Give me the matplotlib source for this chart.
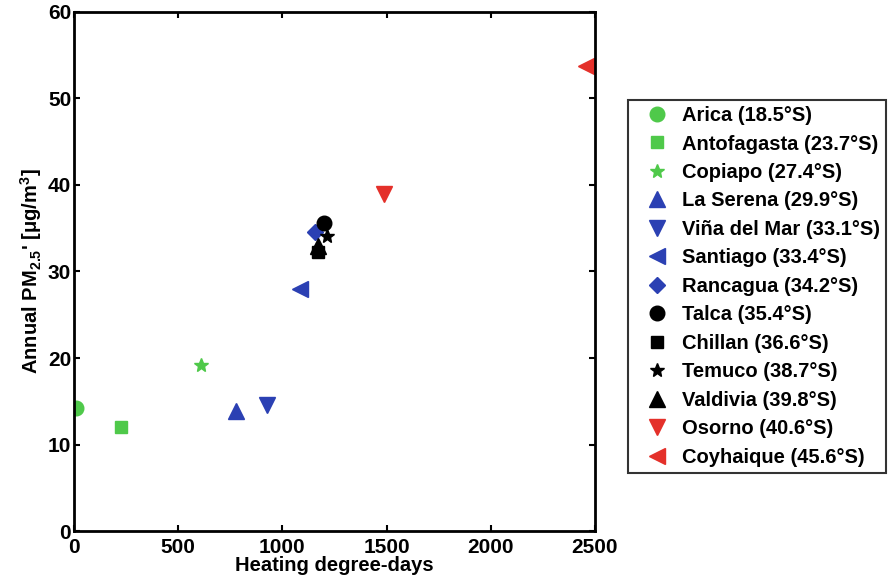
import matplotlib
matplotlib.use("Agg")
import matplotlib.pyplot as plt

plt.rcParams['font.family'] = ['Liberation Sans', 'DejaVu Sans']
plt.rcParams['font.weight'] = 'bold'
plt.rcParams['mathtext.fontset'] = 'custom'
plt.rcParams['mathtext.rm'] = 'Liberation Sans:bold'
plt.rcParams['mathtext.bf'] = 'Liberation Sans:bold'
plt.rcParams['mathtext.default'] = 'rm'

# データ
cities = ["Arica (18.5°S)", "Antofagasta (23.7°S)", "Copiapo (27.4°S)",
          "La Serena (29.9°S)", "Viña del Mar (33.1°S)", "Santiago (33.4°S)",
          "Rancagua (34.2°S)", "Talca (35.4°S)", "Chillan (36.6°S)",
          "Temuco (38.7°S)", "Valdivia (39.8°S)", "Osorno (40.6°S)",
          "Coyhaique (45.6°S)"]
hdd = [10, 225, 610, 779, 928, 1087, 1155, 1202, 1173, 1216, 1173, 1486, 2457]
pm25 = [14.2, 12.0, 19.2, 13.9, 14.6, 28.0, 34.6, 35.6, 32.3, 34.1, 33.0, 39.0, 53.8]

GREEN = "#4fc94a"
BLUE = "#2b40b3"
RED = "#e4302a"
BLACK = "#000000"
colors = [GREEN, GREEN, GREEN, BLUE, BLUE, BLUE, BLUE,
          BLACK, BLACK, BLACK, BLACK, RED, RED]
markers = ["o", "s", "*", "^", "v", "<", "D", "o", "s", "*", "^", "v", "<"]
sizes = [10.5, 9, 10, 11, 11, 11, 8, 10.5, 9, 10, 11, 11, 11]

fig = plt.figure(figsize=(8.91, 5.85), dpi=100)
ax = fig.add_axes([0.083, 0.0923, 0.5847, 0.8872])

for name, x, y, c, m, s in zip(cities, hdd, pm25, colors, markers, sizes):
    ax.plot(x, y, linestyle="none", marker=m, color=c, markersize=s,
            markeredgecolor=c, label=name)

ax.set_xlim(0, 2500)
ax.set_ylim(0, 60)
ax.set_xticks([0, 500, 1000, 1500, 2000, 2500])
ax.set_yticks([0, 10, 20, 30, 40, 50, 60])
ax.tick_params(direction="in", top=True, right=True, labelsize=15,
               width=1.5, length=4)
ax.tick_params(axis="x", pad=5)
ax.tick_params(axis="y", pad=2)
for sp in ax.spines.values():
    sp.set_linewidth(2)
ax.set_xlabel("Heating degree-days", fontsize=14.5, fontweight="bold", labelpad=-1)
ax.set_ylabel("Annual PM$_{2.5}$' [μg/m$^{3}$]", fontsize=14.5,
              fontweight="bold", labelpad=3)

# 凡例は図の右側に枠付きで
leg = fig.legend(loc="upper left", bbox_to_anchor=(628 / 891, 1 - 100 / 585),
                 fontsize=14.5, frameon=True, fancybox=False, numpoints=1,
                 handletextpad=0.1, labelspacing=0.47, borderpad=0.3,
                 handlelength=2.3, borderaxespad=0)
leg.get_frame().set_edgecolor("black")
leg.get_frame().set_linewidth(1.5)

fig.savefig("out.png", dpi=100)
